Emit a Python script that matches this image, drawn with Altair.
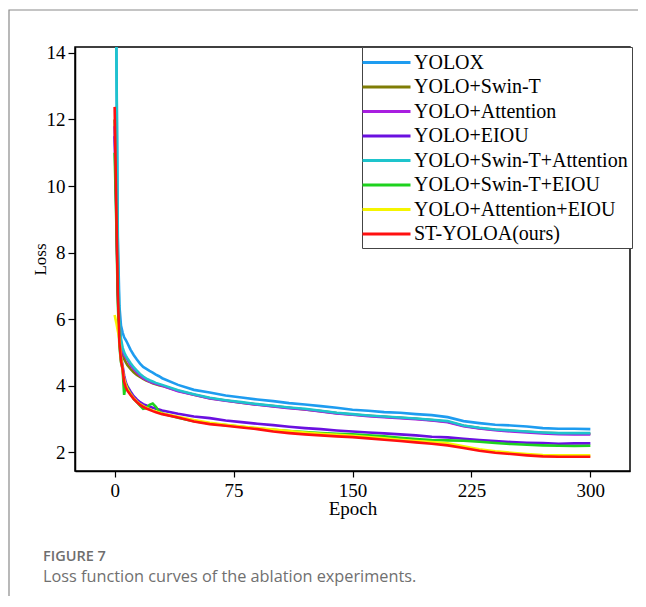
import altair as alt
import pandas as pd

epochs = [0, 1, 2, 3, 4, 5, 6, 7, 8, 10, 12, 14, 16, 18, 20, 22, 24, 26, 28, 30,
          40, 50, 60, 70, 80, 90, 100, 110, 120, 130, 140, 150, 160, 170, 180, 190,
          200, 210, 220, 230, 240, 250, 260, 270, 280, 290, 300]

series_names = ["YOLOX", "YOLO+Swin-T", "YOLO+Attention", "YOLO+EIOU",
                "YOLO+Swin-T+Attention", "YOLO+Swin-T+EIOU", "YOLO+Attention+EIOU",
                "ST-YOLOA(ours)"]
series_colors = ["#1e9cf0", "#7f7d05", "#a81ee0", "#6a10e0",
                 "#1ec4cc", "#1ed21e", "#f5f500", "#ff1010"]

yolox = [17.0, 14.8, 8.5, 6.4, 5.8, 5.6, 5.45, 5.37, 5.28, 5.08, 4.92, 4.78, 4.66, 4.56, 4.50, 4.44, 4.39, 4.33, 4.28, 4.22,
         4.02, 3.87, 3.79, 3.70, 3.64, 3.58, 3.53, 3.47, 3.43, 3.38, 3.33, 3.27, 3.24, 3.20, 3.18, 3.14,
         3.11, 3.05, 2.93, 2.87, 2.82, 2.80, 2.77, 2.72, 2.70, 2.70, 2.69]
swin_t = [12.0, 9.8, 7.0, 5.8, 5.2, 4.95, 4.8, 4.7, 4.62, 4.5, 4.4, 4.32, 4.26, 4.2, 4.15, 4.11, 4.07, 4.04, 4.01, 3.99,
          3.84, 3.72, 3.62, 3.55, 3.48, 3.43, 3.38, 3.33, 3.28, 3.23, 3.17, 3.13, 3.09, 3.06, 3.03, 3.00,
          2.96, 2.91, 2.79, 2.72, 2.67, 2.64, 2.61, 2.58, 2.56, 2.55, 2.55]
attention = [11.8, 9.6, 7.0, 5.9, 5.3, 5.05, 4.92, 4.85, 4.78, 4.62, 4.5, 4.4, 4.3, 4.22, 4.17, 4.12, 4.08, 4.05, 4.02, 3.99,
             3.83, 3.72, 3.61, 3.54, 3.48, 3.42, 3.37, 3.32, 3.28, 3.22, 3.16, 3.12, 3.08, 3.05, 3.02, 2.99,
             2.95, 2.90, 2.78, 2.71, 2.66, 2.62, 2.59, 2.56, 2.54, 2.53, 2.53]
eiou = [11.5, 9.3, 6.8, 5.6, 4.9, 4.6, 4.3, 4.1, 3.98, 3.82, 3.68, 3.58, 3.50, 3.44, 3.40, 3.36, 3.33, 3.30, 3.28, 3.25,
        3.15, 3.07, 3.02, 2.95, 2.90, 2.85, 2.81, 2.76, 2.72, 2.69, 2.65, 2.62, 2.59, 2.56, 2.53, 2.50,
        2.46, 2.44, 2.40, 2.36, 2.33, 2.30, 2.28, 2.27, 2.25, 2.26, 2.26]
swin_t_attention = [16.5, 14.6, 8.0, 6.0, 5.4, 5.15, 5.0, 4.9, 4.82, 4.68, 4.55, 4.45, 4.35, 4.27, 4.21, 4.16, 4.12, 4.08, 4.05, 4.02,
                    3.86, 3.74, 3.63, 3.56, 3.50, 3.44, 3.39, 3.34, 3.30, 3.24, 3.18, 3.14, 3.10, 3.07, 3.04, 3.01,
                    2.97, 2.93, 2.80, 2.73, 2.68, 2.65, 2.62, 2.59, 2.57, 2.57, 2.57]
swin_t_eiou = [11.0, 9.0, 6.5, 5.2, 4.7, 4.5, 3.72, 4.05, 3.92, 3.75, 3.60, 3.50, 3.40, 3.30, 3.32, 3.42, 3.46, 3.36, 3.22, 3.16,
               3.03, 2.93, 2.86, 2.81, 2.76, 2.71, 2.67, 2.63, 2.60, 2.57, 2.55, 2.53, 2.50, 2.47, 2.43, 2.39,
               2.36, 2.35, 2.34, 2.31, 2.27, 2.24, 2.22, 2.20, 2.19, 2.18, 2.19]
attention_eiou = [6.12, 5.9, 5.65, 5.4, 4.85, 4.5, 4.2, 4.02, 3.9, 3.74, 3.62, 3.52, 3.44, 3.38, 3.33, 3.29, 3.25, 3.22, 3.19, 3.16,
                  3.06, 2.96, 2.88, 2.82, 2.77, 2.72, 2.68, 2.63, 2.59, 2.55, 2.52, 2.49, 2.45, 2.41, 2.37, 2.33,
                  2.30, 2.26, 2.17, 2.08, 2.02, 1.98, 1.94, 1.91, 1.90, 1.90, 1.90]
st_yoloa = [12.38, 9.5, 6.8, 5.3, 4.75, 4.5, 4.1, 3.95, 3.85, 3.72, 3.60, 3.50, 3.42, 3.36, 3.31, 3.27, 3.23, 3.20, 3.17, 3.14,
            3.04, 2.92, 2.84, 2.79, 2.74, 2.69, 2.62, 2.57, 2.53, 2.50, 2.47, 2.45, 2.41, 2.37, 2.33, 2.29,
            2.25, 2.20, 2.12, 2.04, 1.98, 1.94, 1.90, 1.87, 1.86, 1.86, 1.86]

all_series = [yolox, swin_t, attention, eiou, swin_t_attention, swin_t_eiou, attention_eiou, st_yoloa]

rows = []
for order, (name, vals) in enumerate(zip(series_names, all_series)):
    for e, v in zip(epochs, vals):
        rows.append({"Epoch": e, "Loss": v, "Model": name, "order": order})
df = pd.DataFrame(rows)

x_ticks = [0, 75, 150, 225, 300]
y_ticks = [2, 4, 6, 8, 10, 12, 14]

serif = "Liberation Serif"

lines = alt.Chart(df).mark_line(strokeWidth=2.6, clip=True).encode(
    x=alt.X("Epoch:Q",
            scale=alt.Scale(domain=[-25, 325], nice=False, zero=False),
            axis=alt.Axis(values=x_ticks, grid=False, title="Epoch",
                          tickSize=6, labelPadding=4, titleY=28, titleBaseline="top")),
    y=alt.Y("Loss:Q",
            scale=alt.Scale(domain=[1.43, 14.18], nice=False, zero=False),
            axis=alt.Axis(values=y_ticks, grid=False, title="Loss",
                          tickSize=7, labelPadding=3, titleX=-35, titleY=212,
                          titleBaseline="middle", titleAlign="center")),
    color=alt.Color("Model:N",
                    scale=alt.Scale(domain=series_names, range=series_colors),
                    legend=alt.Legend(orient="none", legendX=287, legendY=0, title=None,
                                      symbolType="M-1.5,0L3.3,0", symbolSize=400,
                                      symbolStrokeWidth=3, labelFont=serif,
                                      labelFontSize=20, labelColor="black",
                                      strokeColor="#444", fillColor="white",
                                      padding=4, rowPadding=2.5, labelOffset=25,
                                      labelLimit=0)),
    order=alt.Order("order:Q"),
    detail="Model:N",
)

one = pd.DataFrame({"k": [0]})
frame = alt.Chart(one).mark_rect(fill=None, stroke="#8a8a8a", strokeWidth=1.2).encode(
    x=alt.value(-66), x2=alt.value(600), y=alt.value(-37), y2=alt.value(700))

cap1 = alt.Chart(pd.DataFrame({"t": ["FIGURE 7"]})).mark_text(
    align="left", baseline="alphabetic", font="Open Sans", fontSize=14.5,
    fontWeight=600, color="#6e6e6e").encode(
    x=alt.value(-32), y=alt.value(514), text="t:N")
cap2 = alt.Chart(pd.DataFrame({"t": ["Loss function curves of the ablation experiments."]})).mark_text(
    align="left", baseline="alphabetic", font="Open Sans", fontSize=16.3,
    color="#707070").encode(
    x=alt.value(-32), y=alt.value(535), text="t:N")

chart = alt.layer(frame, lines, cap1, cap2).properties(
    width=555, height=424,
    autosize=alt.AutoSizeParams(type="none"),
    padding={"left": 67, "top": 39, "right": 8, "bottom": 125},
    background="white",
).configure_view(
    stroke="black", strokeWidth=1.5
).configure_axis(
    labelFont=serif, labelFontSize=19, labelColor="black",
    titleFont=serif, titleFontWeight="normal", titleColor="black",
    tickColor="black", domainColor="black", tickWidth=1.2, domainWidth=1.5,
).configure_axisX(
    titleFontSize=19
).configure_axisY(
    titleFontSize=17
)

chart.save("out.html", embed_options={"renderer": "svg", "actions": False})
